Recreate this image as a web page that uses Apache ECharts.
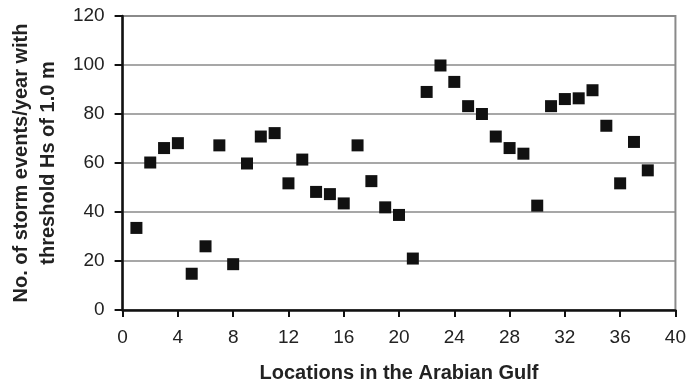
<!DOCTYPE html>
<html>
<head>
<meta charset="utf-8">
<script src="https://cdn.jsdelivr.net/npm/echarts@6/dist/echarts.min.js"></script>
<style>html,body{margin:0;padding:0;background:#fff}#c{width:689px;height:388px}</style>
</head>
<body>
<div id="c"></div>
<script>
const locations = [1,2,3,4,5,6,7,8,9,10,11,12,13,14,15,16,17,18,19,20,21,22,23,24,25,26,27,28,29,30,31,32,33,34,35,36,37,38];
const stormEvents = [33.5,60.2,66.1,68.1,14.8,26.0,67.2,18.7,59.8,70.8,72.2,51.7,61.4,48.2,47.3,43.5,67.2,52.6,41.9,38.8,21.0,89.0,99.8,93.1,83.2,80.0,70.8,66.1,63.8,42.6,83.2,86.1,86.4,89.7,75.2,51.7,68.6,57.0];
const xTicks = [0,4,8,12,16,20,24,28,32,36,40];
const yTicks = [0,20,40,60,80,100,120];
const xName = 'Locations in the Arabian Gulf';
const yName = 'No. of storm events/year with\nthreshold Hs of 1.0 m';

const chart = echarts.init(document.getElementById('c'));
const font = 'Liberation Sans, Arial, sans-serif';
chart.setOption({
  animation: false,
  grid: {left: 117, right: 12, top: 16, bottom: 76, show: true, borderColor: '#8a8a8a', borderWidth: 2, backgroundColor: '#fff'},
  xAxis: {
    type: 'value', min: xTicks[0], max: xTicks[xTicks.length-1], interval: 4,
    name: xName, nameLocation: 'middle', nameGap: 53,
    nameTextStyle: {fontFamily: font, fontSize: 20, fontWeight: 'bold', color: '#222'},
    axisLine: {show: true, onZero: false, lineStyle: {color: '#111', width: 2.5}},
    axisTick: {show: true, inside: false, length: 7, lineStyle: {color: '#111', width: 2}},
    axisLabel: {margin: 18, fontFamily: font, fontSize: 19, color: '#222'},
    splitLine: {show: false}
  },
  yAxis: {
    type: 'value', min: yTicks[0], max: yTicks[yTicks.length-1], interval: 20,
    name: yName, nameLocation: 'middle', nameGap: 60, nameRotate: 90,
    nameTextStyle: {fontFamily: font, fontSize: 20, fontWeight: 'bold', color: '#222', lineHeight: 27, align: 'center'},
    axisLine: {show: true, onZero: false, lineStyle: {color: '#111', width: 2.5}},
    axisTick: {show: true, inside: false, length: 8, lineStyle: {color: '#111', width: 2}},
    axisLabel: {margin: 18, fontFamily: font, fontSize: 19, color: '#222'},
    splitLine: {show: true, lineStyle: {color: '#8a8a8a', width: 1.5}}
  },
  series: [{
    type: 'scatter',
    symbol: 'rect',
    symbolSize: 12,
    itemStyle: {color: '#111', opacity: 1},
    data: locations.map((x, i) => [x, stormEvents[i]])
  }]
});
</script>
</body>
</html>
